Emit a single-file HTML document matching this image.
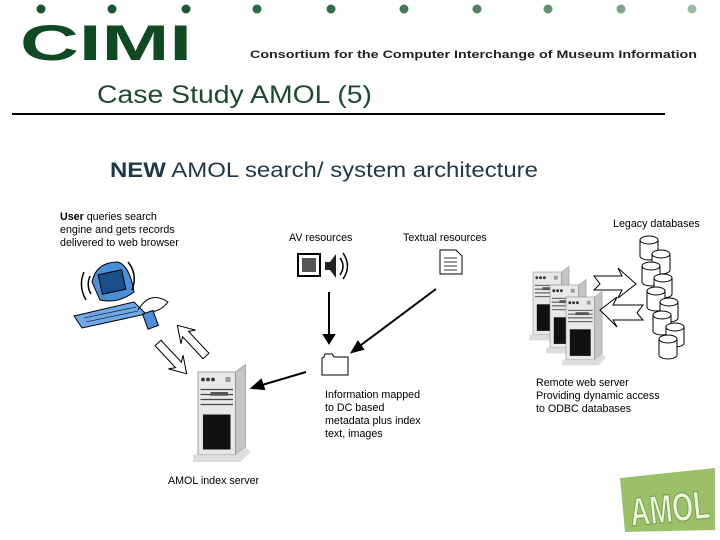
<!DOCTYPE html>
<html><head><meta charset="utf-8"><style>
html,body{margin:0;padding:0;background:#fff;}
svg{display:block;font-family:"Liberation Sans",sans-serif;}
</style></head><body>
<svg width="720" height="540" viewBox="0 0 720 540" xmlns="http://www.w3.org/2000/svg">
<defs>
<g id="srv">
  <polygon points="0,0 30,0 38,-6 38,60 30,66 0,66" fill="#d8d8d8"/>
  <rect x="0" y="0" width="30" height="66" fill="#e8e8e8" stroke="#888" stroke-width="0.6"/>
  <polygon points="30,0 38,-6 38,60 30,66" fill="#c4c4c4" stroke="#888" stroke-width="0.5"/>
  <circle cx="4" cy="6" r="1.5" fill="#333"/><circle cx="8" cy="6" r="1.5" fill="#333"/><circle cx="12" cy="6" r="1.5" fill="#333"/>
  <rect x="22" y="4" width="4" height="4" fill="#999"/>
  <line x1="2" y1="14" x2="28" y2="14" stroke="#444"/><line x1="2" y1="18" x2="28" y2="18" stroke="#444"/>
  <line x1="2" y1="22" x2="28" y2="22" stroke="#444"/><line x1="2" y1="26" x2="28" y2="26" stroke="#444"/>
  <rect x="10" y="16" width="14" height="3" fill="#555"/>
  <rect x="4" y="34" width="22" height="28" fill="#111"/>
  <polygon points="-4,66 30,66 38,60 42,64 34,72 -4,72" fill="#ddd"/>
</g>
<g id="cyl">
  <path d="M0,4 L0,20 A9,4 0 0 0 18,20 L18,4" fill="#fff" stroke="#000" stroke-width="1"/>
  <ellipse cx="9" cy="4" rx="9" ry="4" fill="#fff" stroke="#000" stroke-width="1"/>
</g>
<polygon id="harrow" points="0,-4 30,-4 26,-10 42,0 26,10 30,4 0,4" fill="#fff" stroke="#000" stroke-width="1"/>
</defs>
<g>
<circle cx="41" cy="9" r="4.5" fill="#1a5230"/><circle cx="112" cy="9" r="4.5" fill="#1c5532"/><circle cx="186" cy="9" r="4.5" fill="#1f5835"/>
<circle cx="257" cy="9" r="4.5" fill="#2c6a45"/><circle cx="331" cy="9" r="4.5" fill="#346f4c"/>
<circle cx="404" cy="9" r="4.5" fill="#3f7a56"/><circle cx="477" cy="9" r="4.5" fill="#4d8563"/>
<circle cx="548" cy="9" r="4.5" fill="#5e9271"/><circle cx="621" cy="9" r="4.5" fill="#7aa78a"/>
<circle cx="692" cy="9" r="4.5" fill="#98bca5"/>
</g>
<text x="20" y="60" font-size="50" font-weight="bold" fill="#0f4a22" textLength="172" lengthAdjust="spacingAndGlyphs">CIMI</text>
<text x="250" y="58" font-size="11" font-weight="bold" fill="#222" textLength="447" lengthAdjust="spacingAndGlyphs">Consortium for the Computer Interchange of Museum Information</text>
<text x="97" y="103" font-size="25" fill="#1d4a30" textLength="275" lengthAdjust="spacingAndGlyphs">Case Study AMOL (5)</text>
<rect x="12" y="113" width="653" height="2" fill="#000"/>
<text x="110" y="177" font-size="21" fill="#1f3848" textLength="428" lengthAdjust="spacingAndGlyphs"><tspan font-weight="bold">NEW</tspan> AMOL search/ system architecture</text>
<g font-size="10.7" fill="#000">
<text x="60" y="220"><tspan font-weight="bold">User</tspan> queries search</text>
<text x="60" y="233">engine and gets records</text>
<text x="60" y="246">delivered to web browser</text>
<text x="289" y="241">AV resources</text>
<text x="403" y="241">Textual resources</text>
<text x="613" y="227">Legacy databases</text>
<text x="325" y="398">Information mapped</text>
<text x="325" y="411">to DC based</text>
<text x="325" y="424">metadata plus index</text>
<text x="325" y="437">text, images</text>
<text x="536" y="386">Remote web server</text>
<text x="536" y="399">Providing dynamic access</text>
<text x="536" y="412">to ODBC databases</text>
<text x="168" y="484">AMOL index server</text>
</g>
<!-- computer -->
<g>
  <path d="M92,282 Q96,262 118,262 Q130,266 134,292 Q118,304 100,300 Z" fill="#4a90d8" stroke="#000"/>
  <rect x="100" y="272" width="24" height="20" fill="#1a4f8a" stroke="#000" transform="rotate(-12 112 282)"/>
  <polygon points="74,316 134,302 146,314 82,328" fill="#6fa8e6" stroke="#000"/>
  <g stroke="#000" stroke-width="0.6"><line x1="84" y1="318" x2="136" y2="307"/><line x1="86" y1="322" x2="138" y2="311"/></g>
  <path d="M138,310 Q150,290 168,302 Q162,310 152,312" fill="none" stroke="#000"/>
  <rect x="145" y="312" width="11" height="16" fill="#4a90d8" stroke="#000" transform="rotate(-20 150 320)"/>
  <path d="M84,272 Q78,286 86,300 M90,276 Q86,286 91,294 M128,262 Q138,274 132,290" fill="none" stroke="#000" stroke-width="1.5"/>
</g>
<use href="#harrow" transform="translate(206,356) rotate(-133)"/>
<use href="#harrow" transform="translate(158,343) rotate(47)"/>
<rect x="298" y="254" width="22" height="22" fill="#fff" stroke="#000" stroke-width="2"/>
<rect x="302" y="258" width="14" height="14" fill="#555"/>
<polygon points="325,262 330,262 336,254 336,278 330,270 325,270" fill="#222"/>
<path d="M340,258 Q346,266 340,275 M343,253 Q352,266 343,279" fill="none" stroke="#000" stroke-width="1.5"/>
<path d="M440,250 L456,250 L462,256 L462,274 L440,274 Z" fill="#fff" stroke="#000"/>
<g stroke="#000" stroke-width="0.8"><line x1="444" y1="258" x2="457" y2="258"/><line x1="444" y1="262" x2="457" y2="262"/><line x1="444" y1="266" x2="457" y2="266"/><line x1="444" y1="270" x2="457" y2="270"/></g>
<path d="M322,358 L322,375 L348,375 L348,357 L334,357 L332,354 L325,354 L324,357 Z" fill="#fff" stroke="#000"/>
<g stroke="#000" stroke-width="2" fill="#000">
  <line x1="329" y1="292" x2="329" y2="335"/><polygon points="324,335 334,335 329,343"/>
  <line x1="436" y1="289" x2="357" y2="348"/><polygon points="352,352 358,342 363,349"/>
  <line x1="306" y1="372" x2="262" y2="385"/><polygon points="252,388 261,380 264,389"/>
</g>
<use href="#srv" transform="translate(198,372) scale(1.25)"/>
<use href="#srv" transform="translate(533,272) scale(0.95)"/>
<use href="#srv" transform="translate(550,285) scale(0.95)"/>
<use href="#srv" transform="translate(566,297) scale(0.95)"/>
<polygon points="594,276 622,276 618,268 636,284 618,298 622,290 594,290 600,284" fill="#fff" stroke="#000"/>
<polygon points="600,310 617,297 613,305 643,305 637,313 643,320 613,320 617,327" fill="#fff" stroke="#000"/>
<use href="#cyl" x="640" y="236"/>
<use href="#cyl" x="652" y="250"/>
<use href="#cyl" x="642" y="262"/>
<use href="#cyl" x="654" y="274"/>
<use href="#cyl" x="647" y="287"/>
<use href="#cyl" x="660" y="298"/>
<use href="#cyl" x="653" y="311"/>
<use href="#cyl" x="666" y="323"/>
<use href="#cyl" x="659" y="335"/>
<polygon points="620,478 715,468 715,530 625,532" fill="#9cc069"/>
<text x="630" y="522" font-size="40" font-weight="bold" fill="#eef5e0" stroke="#6a9a3c" stroke-width="1" textLength="80" lengthAdjust="spacingAndGlyphs" transform="rotate(-6 670 510)">AMOL</text>
</svg>
</body></html>
